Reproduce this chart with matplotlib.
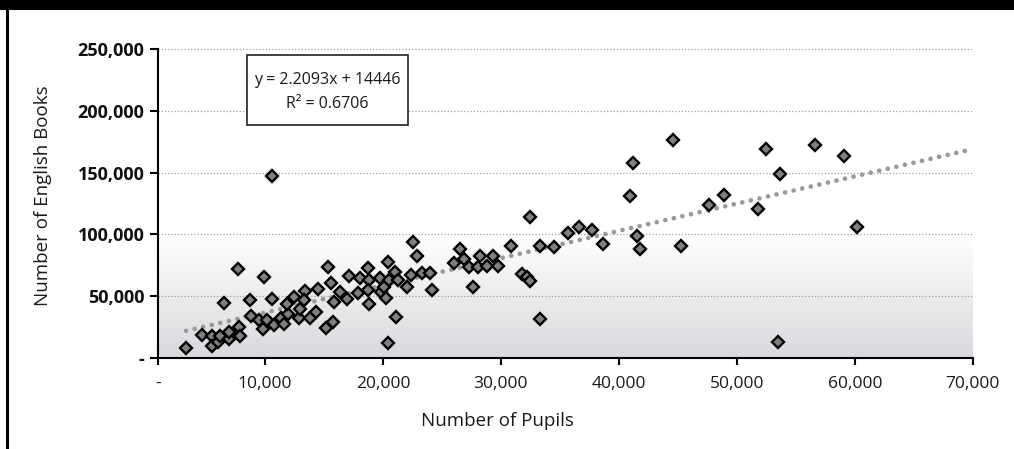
import numpy as np
import matplotlib
matplotlib.use("Agg")
import matplotlib.pyplot as plt
from matplotlib.colors import LinearSegmentedColormap
from matplotlib.patches import Rectangle
from matplotlib.lines import Line2D

plt.rcParams['font.family'] = ['Open Sans', 'DejaVu Sans']

# ---------------- data ----------------
pupils = [3300, 4650, 5470, 5470, 5980, 6210, 6970, 6970, 7820, 7900,
          6490, 7740, 8750, 8810, 9520, 9940, 9800, 10170, 10590, 10730,
          11350, 11640, 11920, 11860, 12480, 12910, 12960, 13390, 13330, 13840,
          14320, 14520, 15140, 15310, 15590, 15760, 15870, 16380, 16950, 17150,
          17850, 18080, 18760, 18840, 18700, 18840, 19750, 19830, 20110, 20450,
          20250, 20540, 20400, 21020, 21240, 21100,
          22570, 22850, 22370, 22030, 23280, 23980, 24150, 25990, 26530, 26900,
          27320, 27600, 28080, 28250, 28820, 29300, 29720, 30850, 31760, 32180,
          32490, 32460, 33310, 33280, 34470, 35660, 36650, 37690, 38620, 41170,
          40970, 41510, 41820, 45300,
          44620, 47670, 48940, 51820, 52470, 53690, 53460, 56630, 59110, 60160,
          10600]
books = [7600, 18400, 17900, 9500, 13000, 17600, 14900, 21100, 25200, 17900,
         44100, 71600, 46800, 33800, 30600, 65700, 23300, 30600, 47300, 26500,
         31900, 27100, 35400, 43300, 49500, 31900, 39200, 54100, 46800, 31900,
         37300, 55700, 23800, 73800, 60800, 29200, 45400, 53000, 47300, 66500,
         52200, 64300, 73000, 63000, 54900, 43300, 64300, 53500, 57000, 77900,
         48100, 63000, 12200, 69700, 63000, 33300,
         94100, 82400, 67000, 57000, 68900, 68900, 54900, 76500, 87800, 79700,
         73300, 57600, 73300, 82400, 74300, 82400, 74300, 90800, 67600, 65100,
         62200, 114300, 90800, 31100, 89500, 101400, 105700, 103500, 91900, 158100,
         131100, 98900, 88100, 90800,
         176500, 123800, 131900, 120500, 168900, 148600, 13000, 172400, 163800, 106200,
         147000]

slope = 2.2093
intercept = 14446
r_squared = 0.6706

x_min, x_max = 950, 70000
x_ticks = [950, 10000, 20000, 30000, 40000, 50000, 60000, 70000]
x_tick_labels = ['-', '10,000', '20,000', '30,000', '40,000', '50,000', '60,000', '70,000']
y_ticks = [0, 50000, 100000, 150000, 200000, 250000]
y_tick_labels = ['-', '50,000', '100,000', '150,000', '200,000', '250,000']

x_label = 'Number of Pupils'
y_label = 'Number of English Books'

# ---------------- figure ----------------
W, H = 1014, 449
fig = plt.figure(figsize=(W / 100, H / 100), dpi=100)
fig.patch.set_facecolor('white')

ax_l, ax_r, ax_t, ax_b = 158.3, 972.7, 49.3, 357.7
ax = fig.add_axes([ax_l / W, 1 - ax_b / H, (ax_r - ax_l) / W, (ax_b - ax_t) / H])
ax.set_xlim(x_min, x_max)
ax.set_ylim(0, 250000)
ax.set_facecolor('white')

# gradient in the lower band
cmap = LinearSegmentedColormap.from_list('g', ['#ffffff', '#d8d9dc'])
grad = np.linspace(0, 1, 256)[:, None]
ax.imshow(grad, extent=[x_min, x_max, 0, 100000], aspect='auto', cmap=cmap,
          zorder=0, interpolation='bicubic')

# grid
for v in y_ticks[1:]:
    ax.axhline(v, color='#a0a0a0', lw=0.9, ls=(0, (1, 1.6)), zorder=1, clip_on=False)

# trendline
tx = np.array([min(pupils), x_max])
ax.plot(tx, slope * tx + intercept, color='#9a9a9a', lw=3.4,
        ls=(0, (0.01, 1.85)), dash_capstyle='round', zorder=2)

# points
ax.plot(pupils, books, ls='none', marker='D', ms=6.6, mfc='#7f7f7f',
        mec='black', mew=1.7, zorder=3)

# spines & ticks
for s in ['top', 'right']:
    ax.spines[s].set_visible(False)
for s in ['left', 'bottom']:
    ax.spines[s].set_linewidth(1.5)
    ax.spines[s].set_color('black')
    ax.spines[s].set_zorder(4)

ax.set_xticks(x_ticks)
ax.set_xticklabels(x_tick_labels, fontsize=12.5, color='#1a1a1a')
ax.set_yticks(y_ticks)
ax.set_yticklabels(y_tick_labels, fontsize=13, fontweight='bold', color='#111111')
ax.tick_params(axis='x', direction='out', length=5, width=1.5, pad=8)
ax.tick_params(axis='y', direction='out', length=6, width=1.5, pad=4)

# axis titles
fig.text(497.5 / W, 1 - 421 / H, x_label, ha='center', va='center', fontsize=13.5, color='#1a1a1a')
fig.text(43 / W, 1 - 196 / H, y_label, ha='center', va='center', rotation=90,
         fontsize=13.5, color='#1a1a1a')

# equation box
bx0, bx1, by0, by1 = 247, 408, 55, 125
fig.patches.append(Rectangle((bx0 / W, 1 - by1 / H), (bx1 - bx0) / W, (by1 - by0) / H,
                             transform=fig.transFigure, facecolor='white',
                             edgecolor='#222222', lw=1.2, zorder=5))
cx = (bx0 + bx1) / 2 / W
fig.text(cx, 1 - 80 / H, f'y = {slope}x + {intercept}', ha='center', va='center',
         fontsize=11.5, color='#1a1a1a', zorder=6)
fig.text(cx, 1 - 104 / H, f'R\u00b2 = {r_squared}', ha='center', va='center',
         fontsize=11.5, color='#1a1a1a', zorder=6)

# frame decorations: top black bar and left black line
fig.patches.append(Rectangle((0, 1 - 10 / H), 1, 10 / H, transform=fig.transFigure,
                             facecolor='black', edgecolor='none', zorder=10))
fig.lines.append(Line2D([7 / W, 7 / W], [0, 1], transform=fig.transFigure,
                        color='black', lw=2.2, zorder=10))

fig.savefig('out.png', dpi=100)
